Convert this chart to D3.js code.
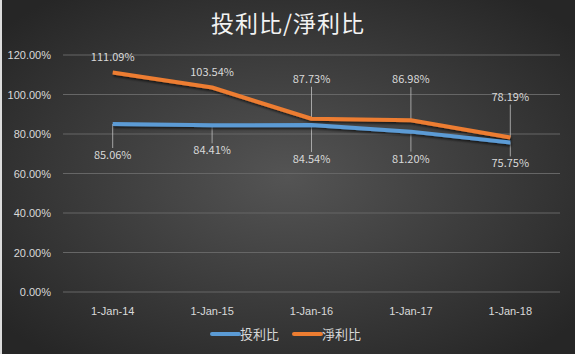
<!DOCTYPE html>
<html lang="zh-Hant">
<head>
    <meta charset="UTF-8">
    <title>投利比/淨利比</title>
    <script src="https://d3js.org/d3.v7.min.js"></script>
    <style>
        body {
            margin: 0;
            padding: 0;
            background: #2b2b2b;
        }
        svg {
            display: block;
            font-family: "Noto Sans CJK TC", "Noto Sans", sans-serif;
        }
        .tick text {
            fill: #d9d9d9;
            font-size: 11px;
        }
    </style>
</head>
<body>
    <svg id="chart" width="575" height="354"></svg>

    <script>
        // Data
        const years = ["1-Jan-14", "1-Jan-15", "1-Jan-16", "1-Jan-17", "1-Jan-18"];
        const touLiBi = [85.06, 84.41, 84.54, 81.20, 75.75];   // 投利比
        const jingLiBi = [111.09, 103.54, 87.73, 86.98, 78.19]; // 淨利比
        const yTicks = [0, 20, 40, 60, 80, 100, 120];

        // label baseline offset from the point, and whether a leader line is drawn
        const jingLabelDy = [-12, -12, -36, -37, -37];
        const jingLeader = [false, false, true, true, true];
        const touLabelDy = [35, 29, 38, 31, 25];
        const touLeader = [true, true, true, true, true];

        const width = 575, height = 354;
        const margin = { top: 55, right: 15, bottom: 62, left: 63 };

        const svg = d3.select("#chart");
        const defs = svg.append("defs");

        const grad = defs.append("radialGradient")
            .attr("id", "bg")
            .attr("cx", "50%").attr("cy", "50%").attr("r", "65%");
        grad.append("stop").attr("offset", "0%").attr("stop-color", "#545454");
        grad.append("stop").attr("offset", "100%").attr("stop-color", "#262626");

        const shadow = defs.append("filter").attr("id", "shadow")
            .attr("x", "-10%").attr("y", "-30%").attr("width", "130%").attr("height", "180%");
        shadow.append("feDropShadow")
            .attr("dx", 1).attr("dy", 2).attr("stdDeviation", 1.2)
            .attr("flood-color", "#000").attr("flood-opacity", 0.6);

        // background
        svg.append("rect")
            .attr("x", 0).attr("y", 0)
            .attr("width", width).attr("height", height)
            .attr("fill", "url(#bg)");

        // spreadsheet edge on the left
        svg.append("rect")
            .attr("x", 0).attr("y", 0).attr("width", 2).attr("height", height)
            .attr("fill", "#dcdcdc");

        const x = d3.scaleBand()
            .domain(years)
            .range([margin.left, width - margin.right]);

        const y = d3.scaleLinear()
            .domain([0, 120])
            .range([height - margin.bottom, margin.top]);

        // gridlines
        svg.append("g")
            .selectAll("line")
            .data(yTicks)
            .join("line")
            .attr("x1", margin.left)
            .attr("x2", width - margin.right)
            .attr("y1", d => y(d))
            .attr("y2", d => y(d))
            .attr("stroke", "#666")
            .attr("stroke-width", 1);

        // Y axis
        const yAxis = svg.append("g")
            .attr("transform", `translate(${margin.left}, 0)`)
            .call(d3.axisLeft(y).tickValues(yTicks).tickFormat(d => d.toFixed(2) + "%").tickSize(0).tickPadding(12));
        yAxis.select(".domain").remove();

        // X axis
        const xAxis = svg.append("g")
            .attr("transform", `translate(0, ${height - margin.bottom})`)
            .call(d3.axisBottom(x).tickSize(0).tickPadding(15));
        xAxis.select(".domain").remove();

        // title
        svg.append("text")
            .attr("x", 288)
            .attr("y", 32)
            .attr("text-anchor", "middle")
            .attr("fill", "#f2f2f2")
            .attr("font-size", 23)
            .attr("letter-spacing", 1)
            .text("投利比/淨利比");

        const cx = i => x(years[i]) + x.bandwidth() / 2;

        const line = d3.line()
            .x((d, i) => cx(i))
            .y(d => y(d));

        const series = [
            { name: "投利比", values: touLiBi, color: "#5b9bd5", dy: touLabelDy, leader: touLeader },
            { name: "淨利比", values: jingLiBi, color: "#ed7d31", dy: jingLabelDy, leader: jingLeader }
        ];

        // leader lines
        series.forEach(s => {
            const pts = s.values.map((v, i) => ({ v, i, dy: s.dy[i] })).filter(p => s.leader[p.i]);
            svg.append("g")
                .selectAll("line")
                .data(pts)
                .join("line")
                .attr("x1", p => cx(p.i))
                .attr("x2", p => cx(p.i))
                .attr("y1", p => y(p.v))
                .attr("y2", p => p.dy < 0 ? y(p.v) + p.dy + 4 : y(p.v) + p.dy - 11)
                .attr("stroke", "#bfbfbf")
                .attr("stroke-width", 0.8);
        });

        // lines (orange behind blue)
        [series[1], series[0]].forEach(s => {
            svg.append("path")
                .datum(s.values)
                .attr("fill", "none")
                .attr("stroke", s.color)
                .attr("stroke-width", 4)
                .attr("stroke-linejoin", "round")
                .attr("filter", "url(#shadow)")
                .attr("d", line);
        });

        // data labels
        series.forEach(s => {
            svg.append("g")
                .selectAll("text")
                .data(s.values)
                .join("text")
                .attr("x", (d, i) => cx(i))
                .attr("y", (d, i) => y(d) + s.dy[i])
                .attr("text-anchor", "middle")
                .attr("fill", "#d9d9d9")
                .attr("font-size", 11)
                .text(d => d.toFixed(2) + "%");
        });

        // legend
        const legend = svg.append("g").attr("transform", "translate(0, 334)");
        const legendX = [212, 294];
        series.forEach((s, i) => {
            legend.append("line")
                .attr("x1", legendX[i]).attr("x2", legendX[i] + 27)
                .attr("y1", 0).attr("y2", 0)
                .attr("stroke", s.color)
                .attr("stroke-width", 4)
                .attr("stroke-linecap", "round");
            legend.append("text")
                .attr("x", legendX[i] + 28)
                .attr("y", 5)
                .attr("fill", "#d9d9d9")
                .attr("font-size", 13)
                .text(s.name);
        });
    </script>
</body>
</html>
